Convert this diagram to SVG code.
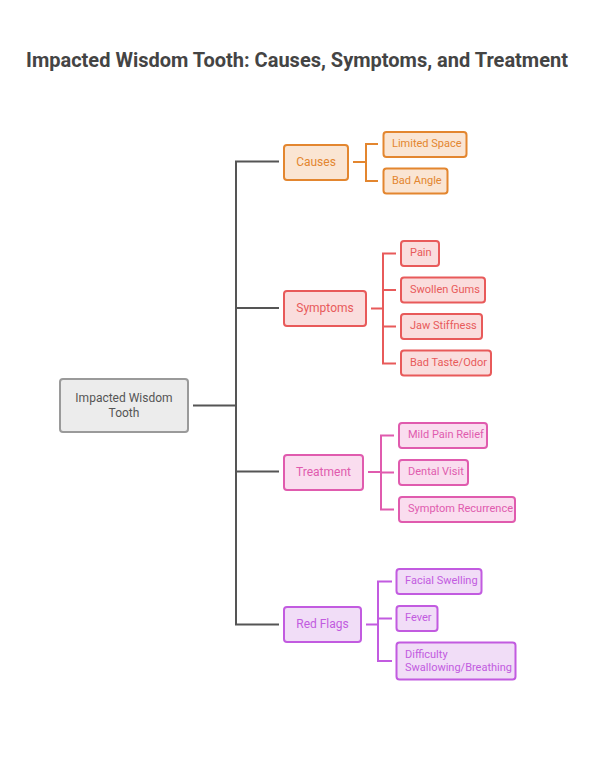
<svg xmlns="http://www.w3.org/2000/svg" width="594" height="764" viewBox="0 0 594 764">
<style>
text{font-family:Roboto,"Liberation Sans",sans-serif;dominant-baseline:central}
.title{font-size:20px;font-weight:bold;fill:#444;text-anchor:middle}
.root rect{fill:#ECECEC;stroke:#9A9A9A;stroke-width:2}
.root text{fill:#555;font-size:12px;text-anchor:middle}
.mid{font-size:12px;text-anchor:middle}
.leaf{font-size:11px}
.or rect{fill:#FAE5D3;stroke:#E3862F;stroke-width:2}
.or text{fill:#E3862F}
.rd rect{fill:#FADDDD;stroke:#E85A5A;stroke-width:2}
.rd text{fill:#E85A5A}
.pk rect{fill:#FADDEF;stroke:#E05BAE;stroke-width:2}
.pk text{fill:#E05BAE}
.pu rect{fill:#F1DDF7;stroke:#C25BE0;stroke-width:2}
.pu text{fill:#C25BE0}
#connectors path{fill:none;stroke-width:2}
</style>
<rect width="594" height="764" fill="#fff"/>
<text class="title" x="297" y="60">Impacted Wisdom Tooth: Causes, Symptoms, and Treatment</text>
<g id="connectors">
<path d="M193 405.5H236M279 161.5H236V624.5H279M236 308H279M236 471.5H279" stroke="#555"/>
<path d="M353 162H366M378 144H366V181H378" stroke="#E3862F"/>
<path d="M371 308.5H383M396 253.5H383V363.5H396M383 290H396M383 326.5H396" stroke="#E85A5A"/>
<path d="M368 472H381M394 435.5H381V509.5H394M381 472.5H394" stroke="#E05BAE"/>
<path d="M366 624.5H378M392 581.5H378V661H392M378 618.5H392" stroke="#C25BE0"/>
</g>
<g id="root" class="root"><rect x="60" y="379" width="128" height="53" rx="3"/><text x="124" y="397.5">Impacted Wisdom</text><text x="124" y="412.5">Tooth</text></g>
<g id="causes" class="or"><rect x="284" y="145" width="64" height="35" rx="3"/><text class="mid" x="316" y="162">Causes</text></g>
<g id="limited-space" class="or"><rect x="383.5" y="132" width="83" height="25" rx="3"/><text class="leaf" x="392" y="143.5">Limited Space</text></g>
<g id="bad-angle" class="or"><rect x="383.5" y="168.5" width="64" height="25" rx="3"/><text class="leaf" x="392" y="180">Bad Angle</text></g>
<g id="symptoms" class="rd"><rect x="284" y="291" width="82" height="35" rx="3"/><text class="mid" x="325" y="308">Symptoms</text></g>
<g id="pain" class="rd"><rect x="401" y="241" width="38" height="25" rx="3"/><text class="leaf" x="410" y="252.5">Pain</text></g>
<g id="swollen-gums" class="rd"><rect x="401" y="277.5" width="84" height="25" rx="3"/><text class="leaf" x="410" y="289">Swollen Gums</text></g>
<g id="jaw-stiffness" class="rd"><rect x="401" y="314" width="81" height="25" rx="3"/><text class="leaf" x="410" y="325.5">Jaw Stiffness</text></g>
<g id="bad-taste" class="rd"><rect x="401" y="350.5" width="90" height="25" rx="3"/><text class="leaf" x="410" y="362">Bad Taste/Odor</text></g>
<g id="treatment" class="pk"><rect x="284" y="455" width="79" height="35" rx="3"/><text class="mid" x="323.5" y="472">Treatment</text></g>
<g id="mild-pain-relief" class="pk"><rect x="399" y="423" width="88" height="25" rx="3"/><text class="leaf" x="408" y="434.5">Mild Pain Relief</text></g>
<g id="dental-visit" class="pk"><rect x="399" y="460" width="69" height="25" rx="3"/><text class="leaf" x="408" y="471.5">Dental Visit</text></g>
<g id="symptom-recurrence" class="pk"><rect x="399" y="497" width="116" height="25" rx="3"/><text class="leaf" x="408" y="508.5">Symptom Recurrence</text></g>
<g id="red-flags" class="pu"><rect x="284" y="607" width="77" height="35" rx="3"/><text class="mid" x="322.5" y="624">Red Flags</text></g>
<g id="facial-swelling" class="pu"><rect x="396.5" y="569" width="85" height="25" rx="3"/><text class="leaf" x="405" y="580.5">Facial Swelling</text></g>
<g id="fever" class="pu"><rect x="396.5" y="606" width="41" height="25" rx="3"/><text class="leaf" x="405" y="617.5">Fever</text></g>
<g id="difficulty" class="pu"><rect x="396.5" y="642.5" width="119" height="37" rx="3"/><text class="leaf" x="405" y="654">Difficulty</text><text class="leaf" x="405" y="667">Swallowing/Breathing</text></g>
</svg>
